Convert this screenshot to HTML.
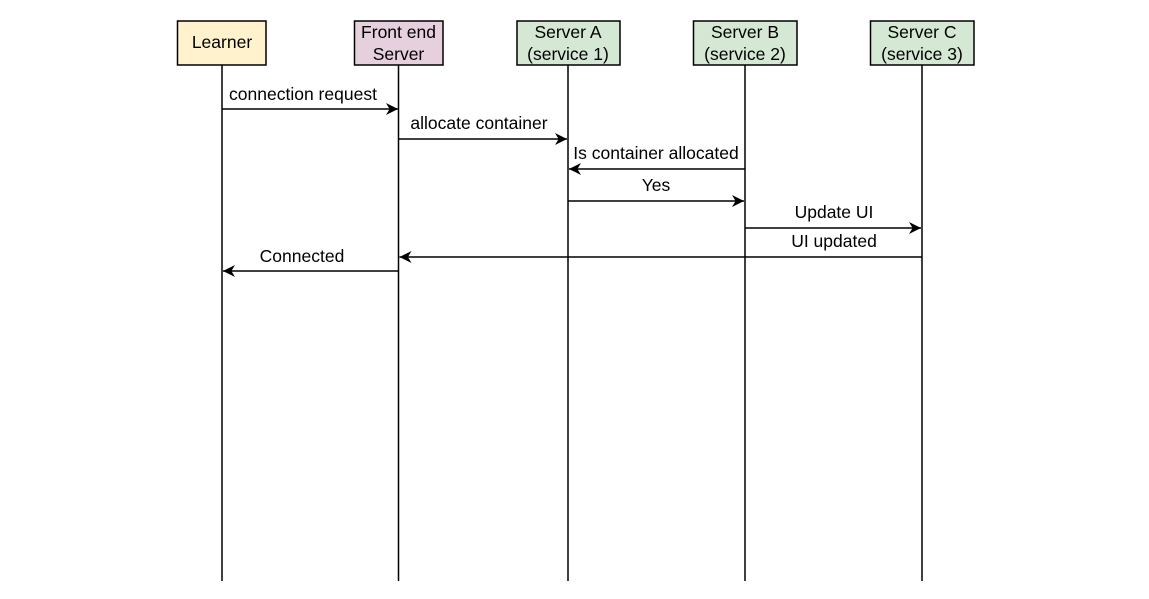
<!DOCTYPE html>
<html><head><style>body{margin:0;background:#fff}svg{display:block}</style></head><body>
<svg width="1149" height="599" viewBox="0 0 1149 599" xmlns="http://www.w3.org/2000/svg" font-family="Liberation Sans, Arial, sans-serif" font-size="17.5">
<defs><marker id="a" viewBox="0 0 10 10" refX="10" refY="5" markerWidth="12" markerHeight="12" markerUnits="userSpaceOnUse" orient="auto"><path d="M0,0 L10,5 L0,10 L3,5 Z" fill="#000"/></marker></defs>
<g stroke="#000" stroke-width="1.5">
<line x1="222" y1="65" x2="222" y2="581"/><line x1="398.5" y1="65" x2="398.5" y2="581"/><line x1="568" y1="65" x2="568" y2="581"/><line x1="745" y1="65" x2="745" y2="581"/><line x1="922" y1="65" x2="922" y2="581"/>
<rect x="177.5" y="21" width="88.5" height="44" fill="#fff2cc"/>
<rect x="354.5" y="21" width="88.5" height="44" fill="#e6d0de"/>
<rect x="517" y="21" width="103" height="44" fill="#d5e8d4"/>
<rect x="693.5" y="21" width="103.5" height="44" fill="#d5e8d4"/>
<rect x="870.5" y="21" width="103.5" height="44" fill="#d5e8d4"/>
<g fill="none" marker-end="url(#a)">
<line x1="222" y1="109" x2="398" y2="109"/>
<line x1="398.5" y1="139" x2="567" y2="139"/>
<line x1="745" y1="169" x2="569" y2="169"/>
<line x1="568" y1="201" x2="744" y2="201"/>
<line x1="745" y1="228" x2="921" y2="228"/>
<line x1="922" y1="257" x2="399.5" y2="257"/>
<line x1="398.5" y1="271" x2="223" y2="271"/>
</g></g>
<g text-anchor="middle" fill="#000">
<text x="222" y="48">Learner</text>
<text x="398.5" y="38">Front end</text><text x="398.5" y="60">Server</text>
<text x="568" y="38">Server A</text><text x="568" y="60">(service 1)</text>
<text x="745" y="38">Server B</text><text x="745" y="60">(service 2)</text>
<text x="922" y="38">Server C</text><text x="922" y="60">(service 3)</text>
<text x="303" y="100">connection request</text>
<text x="479" y="129">allocate container</text>
<text x="656" y="159">Is container allocated</text>
<text x="656" y="191">Yes</text>
<text x="834" y="218">Update UI</text>
<text x="834" y="247">UI updated</text>
<text x="302" y="262">Connected</text>
</g>
</svg>
</body></html>
